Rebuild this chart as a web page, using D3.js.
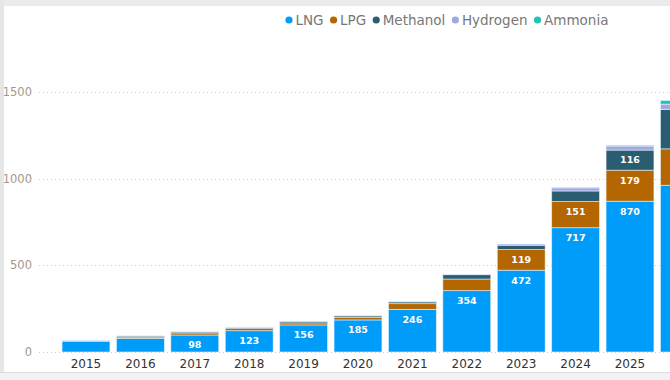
<!DOCTYPE html>
<html>
<head>
<meta charset="utf-8">
<script src="https://cdn.jsdelivr.net/npm/d3@7"></script>
<style>
  body { margin: 0; background: #fff; }
  svg { display: block; font-family: "DejaVu Sans", Verdana, sans-serif; }
</style>
</head>
<body>
<div id="chart"></div>
<script>
// data
const years = ["2015","2016","2017","2018","2019","2020","2021","2022","2023","2024","2025","2026"];
const lng      = [62, 78, 98, 123, 156, 185, 246, 354, 472, 717, 870, 962];
const lpg      = [3, 8, 12, 12, 12, 14, 33, 67, 119, 151, 179, 210];
const methanol = [2, 6, 6, 6, 8, 9, 10, 25, 25, 61, 116, 228];
const hydrogen = [1, 1, 2, 1, 2, 3, 3, 3, 7, 18, 23, 30];
const ammonia  = [0, 0, 0, 0, 0, 0, 0, 0, 0, 3, 5, 21];
const seriesNames = ["LNG", "LPG", "Methanol", "Hydrogen", "Ammonia"];
const yTicks = [0, 500, 1000, 1500];

const colors = ["#009cf9", "#b46700", "#2b5d71", "#a2a7e4", "#22c3b4"];

const W = 670, H = 380;
const svg = d3.select("#chart").append("svg")
    .attr("width", W)
    .attr("height", H);

// frame
svg.append("rect").attr("x", 0).attr("y", 0).attr("width", W).attr("height", 6).attr("fill", "#ebebeb");
svg.append("rect").attr("x", 0).attr("y", 0).attr("width", 4).attr("height", 372).attr("fill", "#e6e6e6");
svg.append("rect").attr("x", 0).attr("y", 372).attr("width", W).attr("height", 8).attr("fill", "#f2f2f2");
svg.append("line").attr("x1", 0).attr("x2", W).attr("y1", 372.5).attr("y2", 372.5).attr("stroke", "#dedede");

const table = years.map((y, i) => ({
    year: y, LNG: lng[i], LPG: lpg[i], Methanol: methanol[i],
    Hydrogen: hydrogen[i], Ammonia: ammonia[i]
}));

const x = d3.scaleBand()
    .domain(years)
    .range([58.8, 711.6])
    .paddingInner(0.12)
    .paddingOuter(0.06);

const y = d3.scaleLinear()
    .domain([0, 1800])
    .range([352, 40]);

// grid + y labels
const grid = svg.append("g");
yTicks.forEach(t => {
    grid.append("line")
        .attr("x1", 39).attr("x2", W)
        .attr("y1", Math.round(y(t)) + 0.5).attr("y2", Math.round(y(t)) + 0.5)
        .attr("stroke", "#c8c8c8")
        .attr("stroke-dasharray", "1,3");
    grid.append("text")
        .attr("x", 32)
        .attr("y", y(t))
        .attr("dy", "0.36em")
        .attr("text-anchor", "end")
        .attr("font-size", "11.5px")
        .attr("fill", "#a5978a")
        .text(t);
});

const stack = d3.stack().keys(seriesNames);
const layers = stack(table);

const layer = svg.selectAll(".layer")
    .data(layers)
    .enter()
    .append("g")
    .attr("class", "layer")
    .attr("fill", (d, i) => colors[i]);

layer.selectAll("rect")
    .data(d => d)
    .enter()
    .append("rect")
    .attr("x", d => x(d.data.year))
    .attr("y", d => y(d[1]))
    .attr("width", x.bandwidth())
    .attr("height", d => y(d[0]) - y(d[1]))
    .attr("stroke", "rgba(235,245,255,0.7)")
    .attr("stroke-width", 0.8);

// data labels, only where the segment is tall enough and the bar is in view
layer.selectAll("text")
    .data(d => d)
    .enter()
    .filter(d => y(d[0]) - y(d[1]) >= 15 && x(d.data.year) + x.bandwidth() / 2 < W)
    .append("text")
    .attr("x", d => x(d.data.year) + x.bandwidth() / 2)
    .attr("y", d => y(d[1]) + 10)
    .attr("dy", "0.36em")
    .attr("text-anchor", "middle")
    .attr("font-size", "9.5px")
    .attr("font-weight", "bold")
    .attr("fill", "#fff")
    .text(d => d[1] - d[0]);

// x labels
svg.append("g")
    .selectAll("text")
    .data(years)
    .enter()
    .append("text")
    .attr("x", d => x(d) + x.bandwidth() / 2)
    .attr("y", 368)
    .attr("text-anchor", "middle")
    .attr("font-size", "12px")
    .attr("fill", "#333")
    .text(d => d);

// legend
const legend = svg.append("g");
let lx = 289;
seriesNames.forEach((name, i) => {
    legend.append("circle")
        .attr("cx", lx).attr("cy", 20).attr("r", 3.6)
        .attr("fill", colors[i]);
    const t = legend.append("text")
        .attr("x", lx + 6.5)
        .attr("y", 20)
        .attr("dy", "0.36em")
        .attr("font-size", "13.5px")
        .attr("fill", "#777")
        .text(name);
    lx += 6.5 + t.node().getComputedTextLength() + 10;
});
</script>
</body>
</html>
